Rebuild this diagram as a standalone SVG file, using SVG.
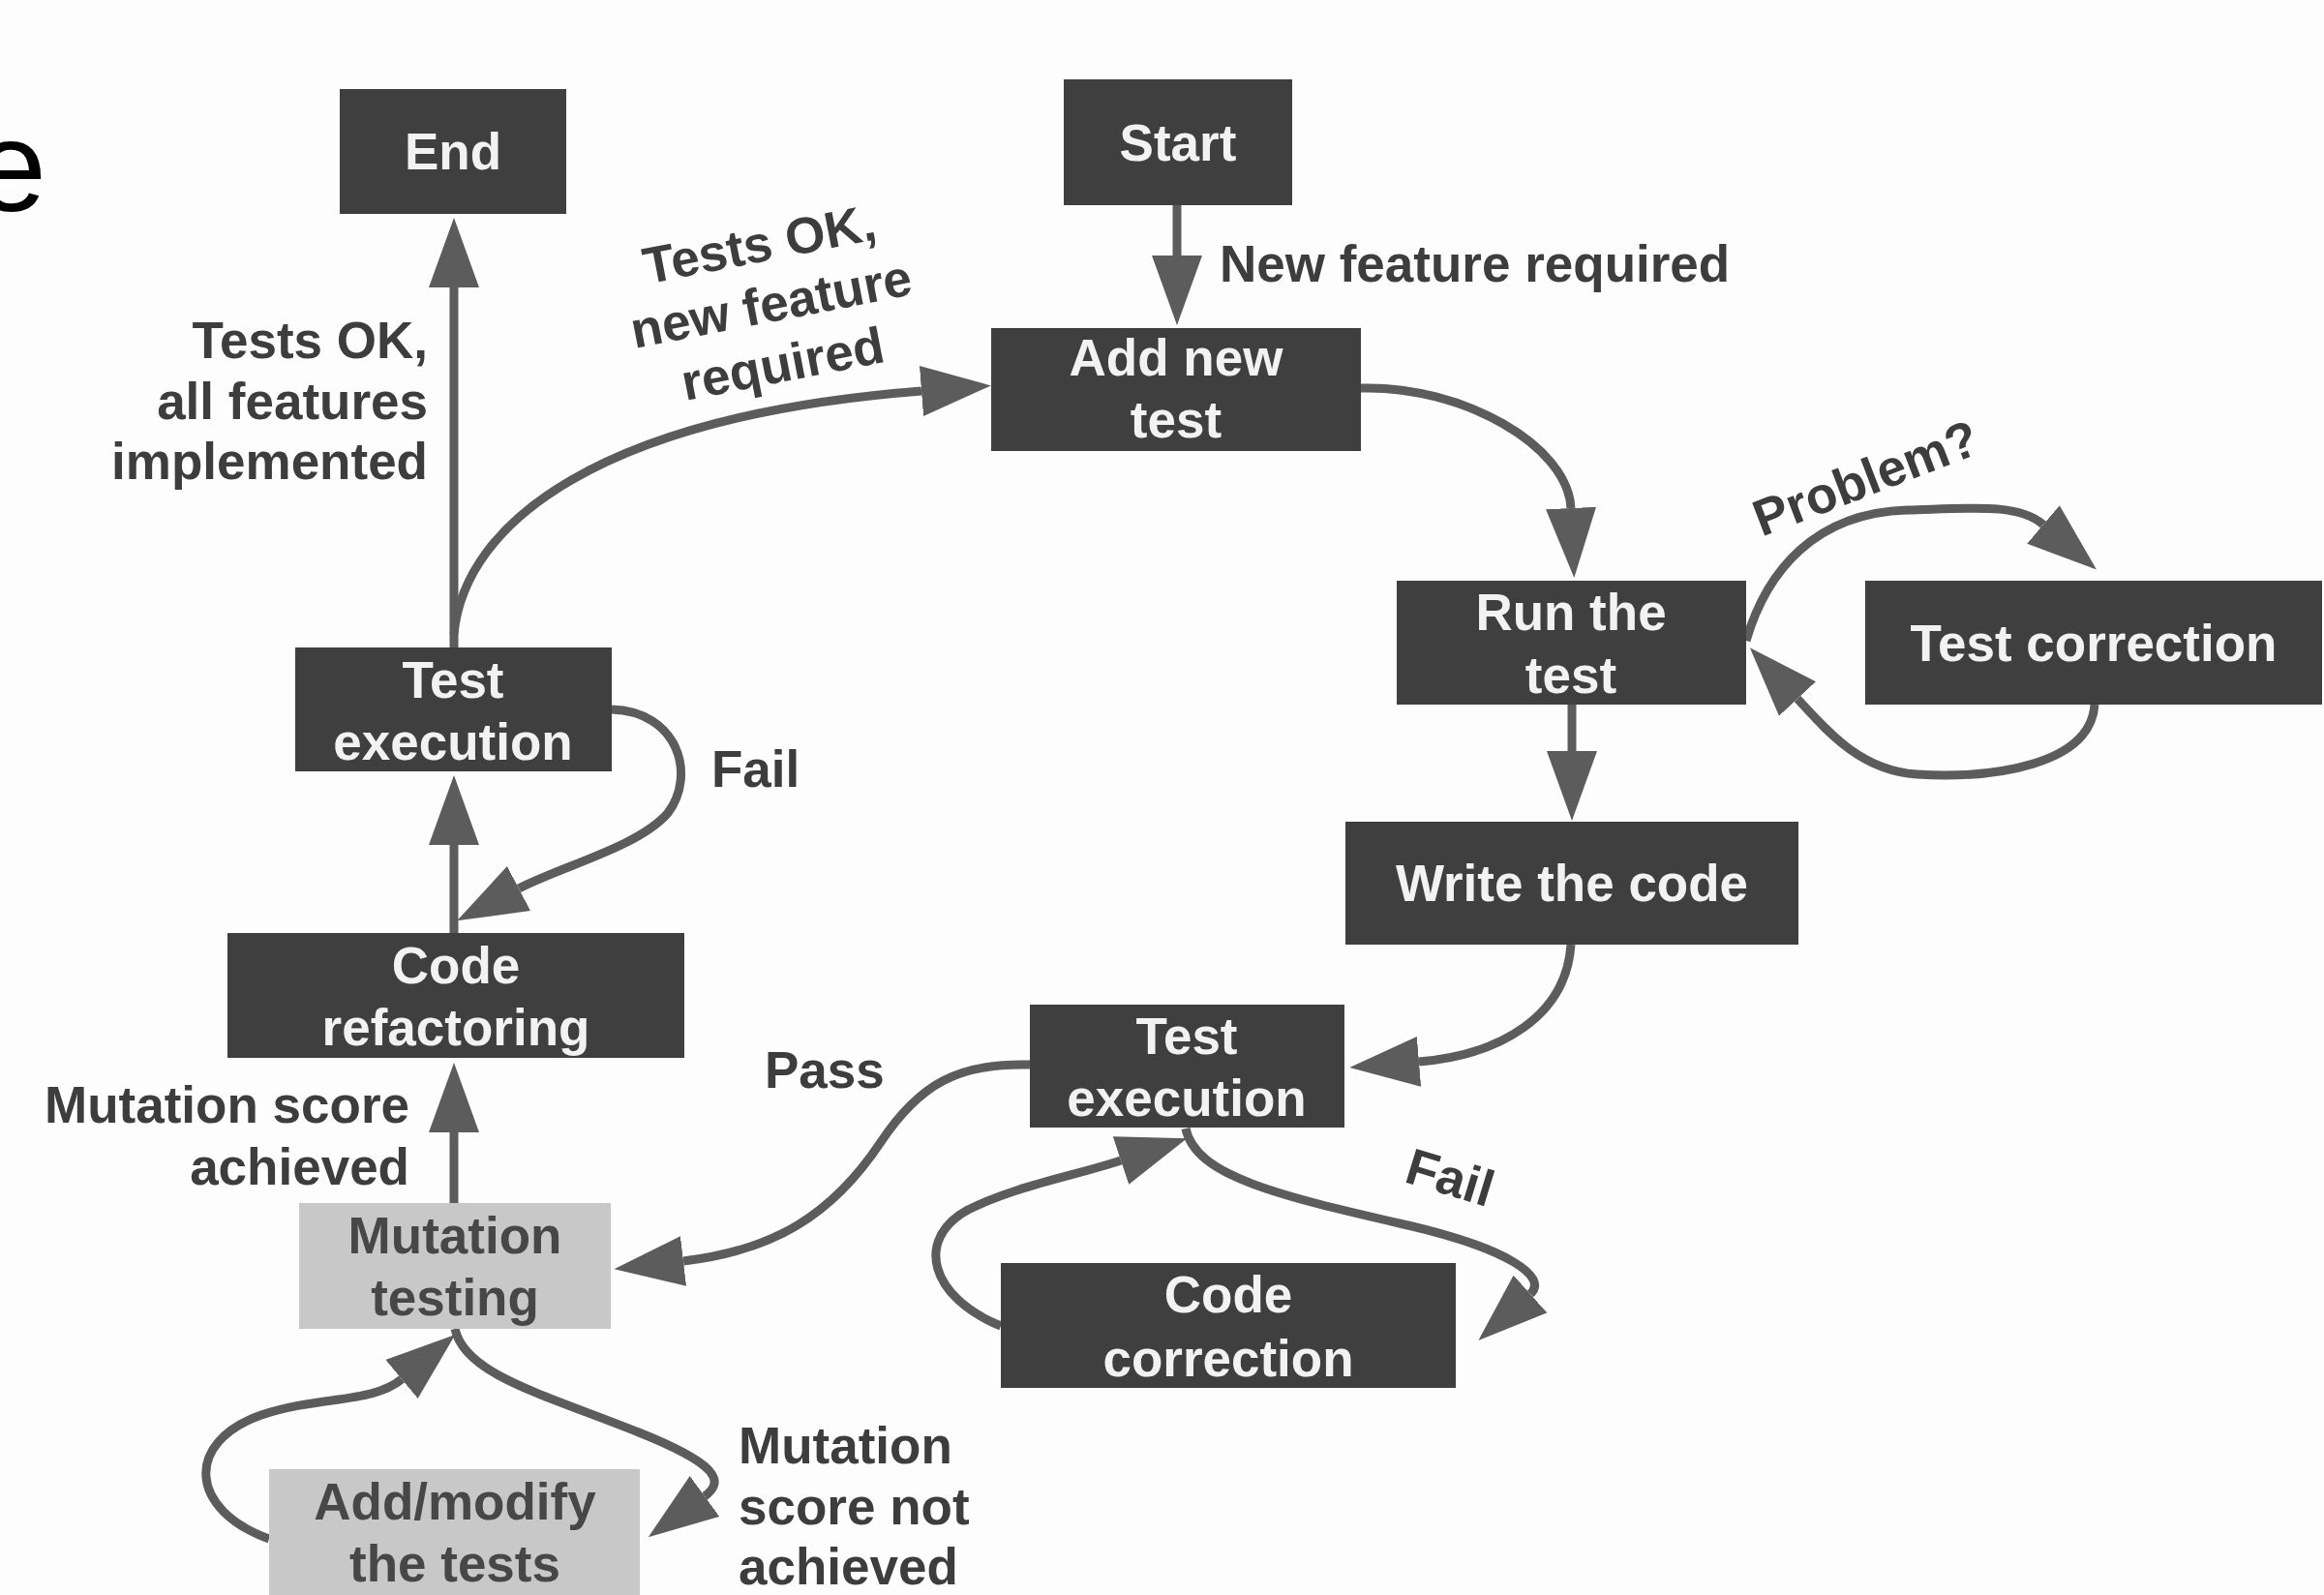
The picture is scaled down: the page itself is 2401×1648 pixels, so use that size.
<svg xmlns="http://www.w3.org/2000/svg" width="2401" height="1648" viewBox="0 0 2401 1648">
<style>
.box{fill:#3f3f3f}
.lbox{fill:#c8c8c8}
.bt{font-family:"Liberation Sans",Arial,sans-serif;font-weight:bold;font-size:53px;fill:#f2f2f2;text-anchor:middle}
.lbt{font-family:"Liberation Sans",Arial,sans-serif;font-weight:bold;font-size:53px;fill:#474747;text-anchor:middle}
.lab{font-family:"Liberation Sans",Arial,sans-serif;font-weight:bold;font-size:53px;fill:#3d3d3d}
.c{fill:none;stroke:#5c5c5c;stroke-width:9;marker-end:url(#ah)}
</style>
<defs>
<marker id="ah" markerUnits="userSpaceOnUse" viewBox="0 0 72 52" markerWidth="72" markerHeight="52" refX="0" refY="26" orient="auto">
<path d="M0,0 L72,26 L0,52 z" fill="#5c5c5c"/>
</marker>
</defs>
<rect width="2401" height="1648" fill="#fdfdfd"/>
<text x="-26" y="218" font-family="Liberation Sans,Arial,sans-serif" font-size="133" fill="#000">e</text>

<g id="connectors">
<path class="c" d="M1216,212 L1216,264"/>
<path class="c" d="M1406,401 C1510,398 1620,460 1623,525"/>
<path class="c" d="M1624,728 L1624,776"/>
<path class="c" d="M1623,976 C1618,1050 1550,1090 1466,1097"/>
<path class="c" d="M1064,1100 C990,1098 950,1120 910,1180 C860,1255 800,1292 706,1303"/>
<path class="c" d="M1225,1166 C1235,1215 1320,1235 1450,1265 C1560,1290 1600,1320 1581,1337"/>
<path class="c" d="M1034,1370 C960,1340 945,1280 1000,1250 C1050,1225 1110,1215 1158,1199"/>
<path class="c" d="M632,733 C700,735 720,800 690,840 C660,875 580,895 536,918"/>
<path class="c" d="M469,964 L469,873"/>
<path class="c" d="M469,669 L469,297"/>
<path class="c" d="M469,655 C480,540 620,430 952,404"/>
<path class="c" d="M469,1243 L469,1170"/>
<path class="c" d="M470,1373 C480,1420 560,1440 660,1480 C740,1512 750,1530 728,1546"/>
<path class="c" d="M278,1590 C195,1560 190,1490 270,1462 C330,1442 385,1450 415,1425"/>
<path class="c" d="M1804,662 C1825,590 1875,530 1970,527 C2040,525 2085,520 2111,542"/>
<path class="c" d="M2164,728 C2160,790 2060,805 1980,800 C1920,796 1885,752 1857,722"/>
</g>

<g id="labels">
<text class="lab" x="1260" y="291">New feature required</text>
<text class="lab" text-anchor="end" x="442" y="370">Tests OK,</text>
<text class="lab" text-anchor="end" x="442" y="433">all features</text>
<text class="lab" text-anchor="end" x="442" y="495">implemented</text>
<g transform="translate(800,332) rotate(-11)">
<text class="lab" text-anchor="middle" x="0" y="-63">Tests OK,</text>
<text class="lab" text-anchor="middle" x="0" y="0">new feature</text>
<text class="lab" text-anchor="middle" x="0" y="63">required</text>
</g>
<text class="lab" text-anchor="middle" transform="translate(1934,511) rotate(-21)">Problem?</text>
<text class="lab" x="735" y="813">Fail</text>
<text class="lab" text-anchor="end" x="423" y="1160">Mutation score</text>
<text class="lab" text-anchor="end" x="423" y="1224">achieved</text>
<text class="lab" x="790" y="1124">Pass</text>
<text class="lab" text-anchor="middle" transform="translate(1493,1234) rotate(17)">Fail</text>
<text class="lab" x="763" y="1512">Mutation</text>
<text class="lab" x="763" y="1575">score not</text>
<text class="lab" x="763" y="1637">achieved</text>
</g>

<g id="end"><rect class="box" x="351" y="92" width="234" height="129"/><text class="bt" x="468" y="175">End</text></g>
<g id="start"><rect class="box" x="1099" y="82" width="236" height="130"/><text class="bt" x="1217" y="166">Start</text></g>
<g id="add-new-test"><rect class="box" x="1024" y="339" width="382" height="127"/><text class="bt" x="1215" y="388">Add new</text><text class="bt" x="1215" y="452">test</text></g>
<g id="run-the-test"><rect class="box" x="1443" y="600" width="361" height="128"/><text class="bt" x="1623" y="651">Run the</text><text class="bt" x="1623" y="716">test</text></g>
<g id="test-correction"><rect class="box" x="1927" y="600" width="472" height="128"/><text class="bt" x="2163" y="683">Test correction</text></g>
<g id="write-the-code"><rect class="box" x="1390" y="849" width="468" height="127"/><text class="bt" x="1624" y="931">Write the code</text></g>
<g id="test-execution-2"><rect class="box" x="1064" y="1038" width="325" height="127"/><text class="bt" x="1226" y="1089">Test</text><text class="bt" x="1226" y="1153">execution</text></g>
<g id="code-correction"><rect class="box" x="1034" y="1305" width="470" height="129"/><text class="bt" x="1269" y="1356">Code</text><text class="bt" x="1269" y="1422">correction</text></g>
<g id="test-execution-1"><rect class="box" x="305" y="669" width="327" height="128"/><text class="bt" x="468" y="721">Test</text><text class="bt" x="468" y="785">execution</text></g>
<g id="code-refactoring"><rect class="box" x="235" y="964" width="472" height="129"/><text class="bt" x="471" y="1016">Code</text><text class="bt" x="471" y="1080">refactoring</text></g>
<g id="mutation-testing"><rect class="lbox" x="309" y="1243" width="322" height="130"/><text class="lbt" x="470" y="1295">Mutation</text><text class="lbt" x="470" y="1359">testing</text></g>
<g id="add-modify"><rect class="lbox" x="278" y="1518" width="383" height="135"/><text class="lbt" x="470" y="1570">Add/modify</text><text class="lbt" x="470" y="1634">the tests</text></g>
</svg>
